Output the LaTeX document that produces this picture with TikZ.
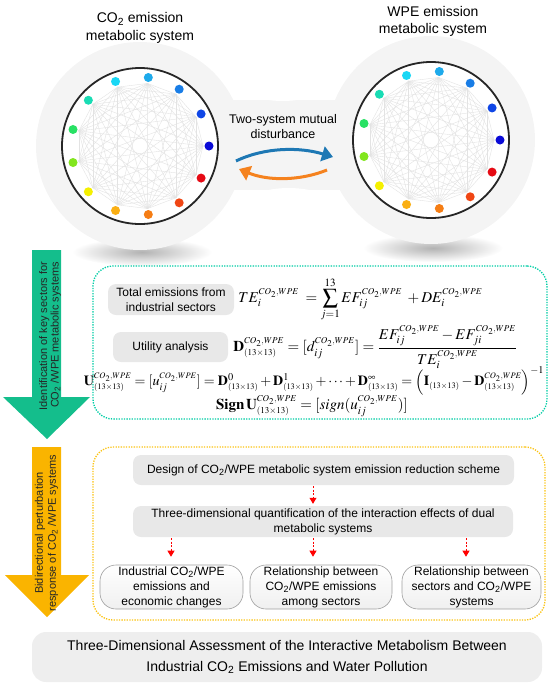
\documentclass[tikz,border=0pt]{standalone}
\usepackage{mathptmx}
\usepackage{fontspec}
\setmainfont{Liberation Sans}
\usetikzlibrary{arrows.meta,positioning,calc}

\definecolor{keygreen}{RGB}{20,190,140}
\definecolor{dotgreen}{RGB}{0,205,165}
\definecolor{amber}{RGB}{250,180,0}
\definecolor{dotamber}{RGB}{250,195,20}
\definecolor{flowblue}{RGB}{30,120,180}
\definecolor{floworange}{RGB}{245,130,30}
\definecolor{bggray}{RGB}{244,244,244}
\definecolor{boxgray}{RGB}{232,232,232}

\newcommand{\COtwo}{CO\textsubscript{2}}
\newcommand{\sCW}{{\scriptscriptstyle CO_2,WPE}}
\newcommand{\tbt}{{\scriptscriptstyle(13\times13)}}

\begin{document}
\begin{tikzpicture}[x=1pt, y=-1pt,
    every node/.style={inner sep=0pt},
    ttl/.style={font=\fontsize{14}{17.5}\selectfont, align=center},
    netedge/.style={gray!22, line width=0.4pt},
    sysdot/.style={circle, minimum size=9pt},
    ring/.style={line width=1.8pt, black!85},
    flow/.style={line width=3pt, -{Triangle[length=11pt,width=15pt]}},
    graybox/.style={rounded corners=8pt, fill=boxgray, align=center,
      font=\fontsize{12}{15}\selectfont},
    resbox/.style={rounded corners=16pt, draw=gray!75, line width=0.6pt,
      top color=white, bottom color=gray!12, align=center,
      font=\fontsize{12}{15}\selectfont},
    panel/.style={rounded corners=20pt, line width=1.3pt,
      dash pattern=on 1.3pt off 1.3pt},
    redarr/.style={red, line width=0.8pt, dash pattern=on 2pt off 1.5pt,
      -{Triangle[length=6pt,width=7pt]}},
    vlbl/.style={rotate=90, text=black!85},
    fml/.style={font=\fontsize{15}{18}\selectfont}
  ]
  \useasboundingbox (0,0) rectangle (550,686);

  %% ---- two metabolic systems ----
  \fill[bggray] (140,100) rectangle (431,190);
  \fill[white] (282.6,3) circle (98pt);
  \fill[white] (288.7,293) circle (105pt);
  \shade[inner color=gray!60, outer color=white] (142,252) ellipse (70pt and 14pt);
  \shade[inner color=gray!60, outer color=white] (433,248) ellipse (70pt and 14pt);
  \fill[bggray] (140,146) circle (104pt);
  \fill[bggray] (431,140) circle (104pt);

  \foreach \sys/\cx/\cy in {co/140/146, wpe/431/140}{
    \begin{scope}[shift={(\cx,\cy)}]
      \fill[white] (0,0) circle (78pt);
      \foreach \k in {0,...,12}
        \coordinate (\sys e\k) at (-\k*360/13:63);
      \foreach \i in {0,...,11}{
        \pgfmathtruncatemacro{\nxt}{\i+1}
        \foreach \j in {\nxt,...,12}
          \draw[netedge] (\sys e\i) -- (\sys e\j);
      }
      \draw[ring] (0,0) circle (78pt);
      \foreach \k/\rd/\gn/\bl in {0/10/10/215, 1/15/70/230, 2/25/125/230,
          3/30/170/235, 4/25/215/245, 5/25/220/180, 6/40/225/100,
          7/130/230/30, 8/245/240/0, 9/250/175/20, 10/245/125/20,
          11/240/70/20, 12/230/10/20}
        \node[sysdot, fill={rgb,255:red,\rd;green,\gn;blue,\bl}] (\sys\k)
          at (-\k*360/13:69) {};
    \end{scope}
  }

  \node[ttl] (coTitle) at (140,28) {\COtwo{} emission\\metabolic system};
  \node[ttl] (wpeTitle) at (433,21.5) {WPE emission\\metabolic system};
  \node[align=center, font=\fontsize{12.5}{15}\selectfont] (mutual) at (283,127)
    {Two-system mutual\\disturbance};

  \coordinate (blueS) at (236,161);
  \coordinate (blueE) at (333,157);
  \coordinate (orS) at (327,170);
  \coordinate (orE) at (239,169);
  \draw[flow, flowblue] (blueS) .. controls (265,147) and (300,147) .. (blueE);
  \draw[flow, floworange] (orS) .. controls (300,181) and (268,181) .. (orE);

  %% ---- big side arrows ----
  \fill[keygreen] (32,250) -- (61,250) -- (61,397) -- (90,397) -- (47,439)
    -- (3,397) -- (32,397) -- cycle;
  \node[vlbl, align=right, font=\fontsize{11}{11.5}\selectfont] (keyLbl) at (50,336)
    {Identification of key sectors for\\\COtwo{} /WPE metabolic systems};
  \fill[amber] (32,447) -- (61,447) -- (61,575) -- (89,575) -- (47,617)
    -- (5,575) -- (32,575) -- cycle;
  \node[vlbl, align=center, font=\fontsize{11}{13}\selectfont] (respLbl) at (46.5,533)
    {Bidirectional perturbation\\response of \COtwo{} /WPE systems};

  %% ---- key sector identification ----
  \node[panel, draw=dotgreen, minimum width=454pt, minimum height=153pt]
    (keyPanel) at (320,342.5) {};
  \node[graybox, minimum width=126pt, minimum height=31pt] (totBox) at (171,299.5)
    {Total emissions from\\industrial sectors};
  \node[graybox, minimum width=115pt, minimum height=30pt] (utilBox) at (170.5,347)
    {Utility analysis};
  \node[fml, right=4pt of totBox] (teEq)
    {$\displaystyle TE_i^{\sCW}\;=\sum_{j=1}^{13}EF_{ij}^{\sCW}\;+DE_i^{\sCW}$};
  \node[fml, right=5pt of utilBox] (dEq)
    {$\displaystyle \mathbf{D}_\tbt^{\sCW}=[d_{ij}^{\sCW}]=\frac{EF_{ij}^{\sCW}-EF_{ji}^{\sCW}}{TE_i^{\sCW}}$};
  \node[fml, font=\fontsize{14}{17}\selectfont] (uEq) at (314,381)
    {$\mathbf{U}_\tbt^{\sCW}=[u_{ij}^{\sCW}]=\mathbf{D}_\tbt^{0}+\mathbf{D}_\tbt^{1}+\cdots+\mathbf{D}_\tbt^{\infty}=\left(\mathbf{I}_\tbt-\mathbf{D}_\tbt^{\sCW}\right)^{-1}$};
  \node[fml] (signEq) at (312,406)
    {$\mathbf{Sign\,U}_\tbt^{\sCW}=[sign(u_{ij}^{\sCW})]$};

  %% ---- bidirectional perturbation ----
  \node[panel, draw=dotamber, minimum width=452pt, minimum height=173pt]
    (respPanel) at (319,533.5) {};
  \node[graybox, minimum width=381pt, minimum height=30pt] (design) at (323.5,470)
    {Design of \COtwo/WPE metabolic system emission reduction scheme};
  \node[graybox, minimum width=380pt, minimum height=31pt] (threeD) at (323,521.5)
    {Three-dimensional quantification of the interaction effects of dual\\metabolic systems};
  \node[resbox, minimum width=143pt, minimum height=44pt] (res1) at (171.5,587)
    {Industrial \COtwo/WPE\\emissions and\\economic changes};
  \node[resbox, minimum width=142pt, minimum height=44pt] (res2) at (321,587)
    {Relationship between\\\COtwo/WPE emissions\\among sectors};
  \node[resbox, minimum width=139pt, minimum height=44pt] (res3) at (471.5,587)
    {Relationship between\\sectors and \COtwo/WPE\\systems};

  \coordinate (midX) at (313,0);
  \draw[redarr, shorten <=1pt, shorten >=2pt] (design.south -| midX) -- (threeD.north -| midX);
  \coordinate (leftX) at (171,0);
  \coordinate (rightX) at (466,0);
  \foreach \cx/\res in {leftX/res1, midX/res2, rightX/res3}
    \draw[redarr, shorten <=1pt, shorten >=8pt] (threeD.south -| \cx) -- (\res.north -| \cx);

  %% ---- assessment banner ----
  \node[rounded corners=14pt, fill=gray!13, minimum width=510pt, minimum height=50pt,
    align=center, font=\fontsize{14}{21}\selectfont] (assess) at (287,657)
    {Three-Dimensional Assessment of the Interactive Metabolism Between\\Industrial \COtwo{} Emissions and Water Pollution};
\end{tikzpicture}
\end{document}
